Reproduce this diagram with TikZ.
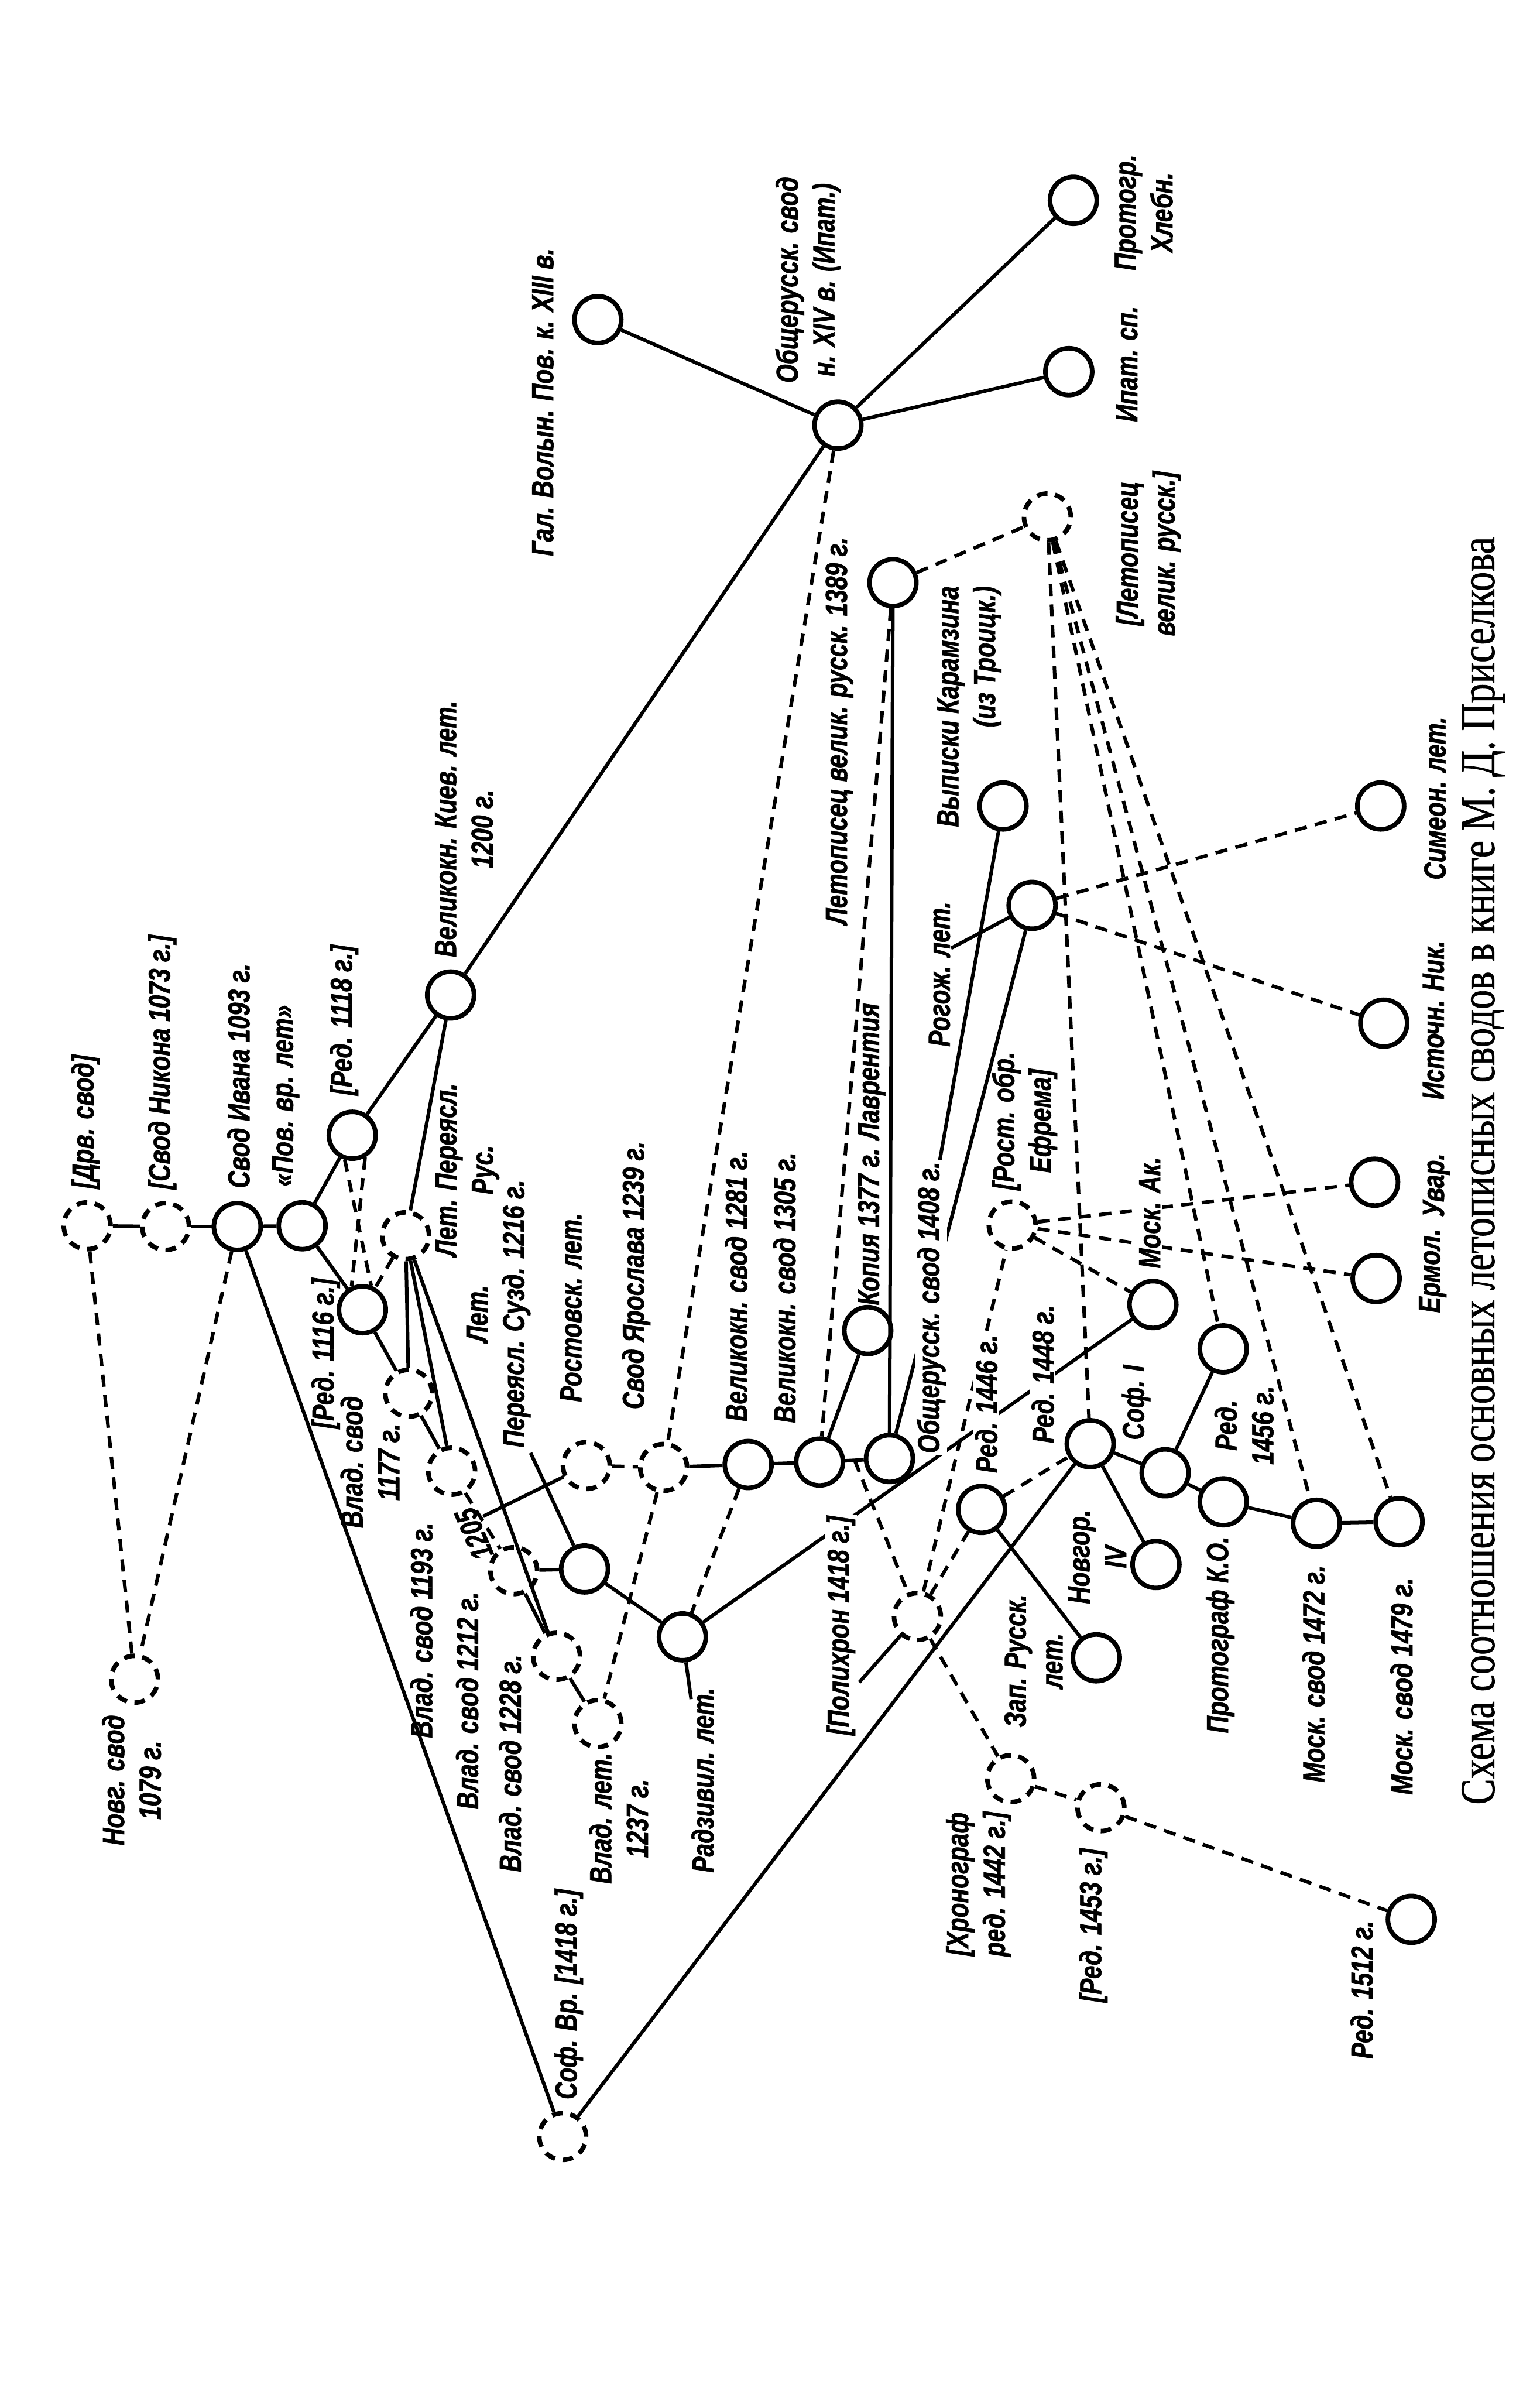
\documentclass[tikz,border=0pt]{standalone}
\usepackage{graphicx}
\usepackage{fontspec}
\newfontfamily\labfont{Liberation Sans}[FakeStretch=0.78,FakeBold=1.2]
\newfontfamily\capfont{Liberation Serif}[FakeBold=1]
\begin{document}
\begin{tikzpicture}[x=1pt,y=-1pt,
  sc/.style={circle,draw,line width=3pt,minimum size=30.6pt,inner sep=0pt},
  dc/.style={sc,dash pattern=on 7pt off 5pt},
  ln/.style={line width=2.3pt},
  dl/.style={line width=2.3pt,dash pattern=on 8pt off 5.5pt},
  lab/.style={rotate=90,font=\labfont\bfseries\itshape\fontsize{20pt}{24pt}\selectfont,align=center,inner sep=1pt},
  labw/.style={lab,fill=white},
]
\fill[white] (0,0) rectangle (1007,1568);
\useasboundingbox (0,0) rectangle (1007,1568);

% ---------- nodes ----------
\node[sc] (gal) at (391,209) {};
\node[sc] (obsh) at (548,278) {};
\node[sc] (ipat) at (699,243) {};
\node[sc] (protogr) at (702,131) {};
\node[dc] (letvel) at (685,338) {};
\node[sc] (l1389) at (584,381) {};
\node[sc] (karam) at (656,527) {};
\node[sc] (rogozh) at (675,592) {};
\node[sc] (simeon) at (903,527) {};
\node[sc] (istoch) at (905,669) {};
\node[sc] (uvar) at (899,773) {};
\node[sc] (ermol) at (900,836) {};
\node[dc] (rostobr) at (662,801) {};
\node[sc] (moskak) at (754,853) {};
\node[sc] (r1456) at (800,882) {};
\node[sc] (r1448) at (713,944) {};
\node[sc] (sof1) at (762,963) {};
\node[sc] (protko) at (800,982) {};
\node[sc] (m1472) at (861,996) {};
\node[sc] (m1479) at (915,995) {};
\node[sc] (novg4) at (756,1023) {};
\node[sc] (zapr) at (717,1084) {};
\node[sc] (r1446) at (642,987) {};
\node[dc] (polich) at (600,1057) {};
\node[dc] (hronogr) at (661,1163) {};
\node[dc] (r1453) at (720,1182) {};
\node[sc] (r1512) at (923,1255) {};
\node[dc] (sofvr) at (368,1397) {};
\node[dc] (novg1079) at (88,1098) {};
\node[dc] (drev) at (57,801.5) {};
\node[dc] (nikon) at (108.3,802) {};
\node[sc] (ivan) at (155.2,802) {};
\node[sc] (pov) at (197.6,801.5) {};
\node[sc] (r1116) at (237,856.4) {};
\node[sc] (r1118) at (230.4,742.3) {};
\node[sc] (kiev) at (294.7,650.6) {};
\node[dc] (lpr) at (265.3,808) {};
\node[dc] (v1177) at (267.3,911) {};
\node[dc] (v1193) at (295.4,962) {};
\node[dc] (v1212) at (336,1027) {};
\node[dc] (v1228) at (364,1083) {};
\node[dc] (vl1237) at (391,1127) {};
\node[dc] (rostov) at (383.5,958.3) {};
\node[dc] (yarosl) at (434,959.5) {};
\node[sc] (lps) at (382.3,1025.9) {};
\node[sc] (radz) at (446.3,1070.3) {};
\node[sc] (vk1281) at (489.3,957.6) {};
\node[sc] (vk1305) at (536,956) {};
\node[sc] (o1408) at (581.7,953.7) {};
\node[sc] (kopia) at (567.5,870) {};

\coordinate (j1205) at (316,991.5);
\coordinate (jpol) at (559,955);
\coordinate (karend) at (614.4,760);
\coordinate (rogl) at (622,620);
\coordinate (lpsl) at (347,950);
\coordinate (radzl) at (452,1111);
\coordinate (polil) at (562,1100);

% ---------- solid connectors ----------
\draw[ln] (gal) -- (obsh);
\draw[ln] (obsh) -- (ipat);
\draw[ln] (obsh) -- (protogr);
\draw[ln] (obsh) -- (kiev);
\draw[ln] (kiev) -- (r1118);
\draw[ln] (kiev) -- (lpr);
\draw[ln] (r1118) -- (pov);
\draw[ln] (pov) -- (ivan);
\draw[ln] (ivan) -- (nikon);
\draw[ln] (nikon) -- (drev);
\draw[ln] (pov) -- (r1116);
\draw[ln] (r1116) -- (v1177);
\draw[ln] (lpr) -- (v1177);
\draw[ln] (lpr) -- (v1193);
\draw[ln] (lpr) -- (v1228);
\draw[ln] (v1177) -- (v1193);
\draw[ln] (v1212) -- (v1228);
\draw[ln] (v1228) -- (vl1237);
\draw[ln] (v1212) -- (lps);
\draw[ln] (lps) -- (radz);
\draw[ln] (lpsl) -- (lps);
\draw[ln] (j1205) -- (rostov);
\draw[ln] (radz) -- (moskak);
\draw[ln] (radzl) -- (radz);
\draw[ln] (yarosl) -- (vk1281);
\draw[ln] (vk1281) -- (vk1305);
\draw[ln] (vk1305) -- (o1408);
\draw[ln] (vk1305) -- (kopia);
\draw[ln] (o1408) -- (l1389);
\draw[ln] (karam) -- (karend);
\draw[ln] (rogozh) -- (o1408);
\draw[ln] (rogl) -- (rogozh);
\draw[ln] (ivan) -- (sofvr);
\draw[ln] (r1448) -- (sofvr);
\draw[ln] (r1446) -- (zapr);
\draw[ln] (r1448) -- (sof1);
\draw[ln] (r1448) -- (novg4);
\draw[ln] (sof1) -- (r1456);
\draw[ln] (sof1) -- (protko);
\draw[ln] (protko) -- (m1472);
\draw[ln] (m1472) -- (m1479);
\draw[ln] (polil) -- (polich);

% ---------- dashed connectors ----------
\draw[dl] (drev) -- (novg1079);
\draw[dl] (ivan) -- (novg1079);
\draw[dl] (r1118.-107) -- (r1116.70);
\draw[dl] (r1118.-60) -- (r1116.115);
\draw[dl] (lpr) -- (r1116);
\draw[dl] (obsh) -- (yarosl);
\draw[dl] (l1389) -- (vk1305);
\draw[dl] (l1389) -- (letvel);
\draw[dl] (yarosl) -- (vl1237);
\draw[dl] (vk1281) -- (radz);
\draw[dl] (rostov) -- (yarosl);
\draw[dl] (v1193) -- (v1212);
\draw[dl] (jpol) -- (polich);
\draw[dl] (polich) -- (rostobr);
\draw[dl] (polich) -- (r1446);
\draw[dl] (polich) -- (hronogr);
\draw[dl] (r1446) -- (r1448);
\draw[dl] (hronogr) -- (r1453);
\draw[dl] (r1453) -- (r1512);
\draw[dl] (letvel) -- (r1448);
\draw[dl] (letvel) -- (r1456);
\draw[dl] (letvel) -- (m1472);
\draw[dl] (letvel) -- (m1479);
\draw[dl] (rostobr) -- (uvar);
\draw[dl] (rostobr) -- (ermol);
\draw[dl] (rostobr) -- (moskak);
\draw[dl] (rogozh) -- (simeon);
\draw[dl] (rogozh) -- (istoch);

% ---------- labels ----------
\node[lab] (t1) at (355,263) {Гал. Волын. Пов. к. XIII в.};
\node[lab] (t2) at (528.5,183) {Общерусск. свод\\н. XIV в. (Ипат.)};
\node[lab] (t3) at (748,139) {Протогр.\\Хлебн.};
\node[lab] (t4) at (737,238) {Ипат. сп.};
\node[lab] (t5) at (751,362) {[Летописец\\велик. русск.]};
\node[lab] (t6) at (549,478) {Летописец велик. русск. 1389 г.};
\node[lab,align=right] (t7) at (634,462) {Выписки Карамзина\\(из Троицк.)};
\node[lab] (t8) at (614.4,637) {Рогож. лет.};
\node[lab] (t9) at (938.5,522) {Симеон. лет.};
\node[lab] (t10) at (937.5,667) {Источн. Ник.};
\node[lab] (t11) at (939.5,775) {Увар.};
\node[lab] (t12) at (937,831) {Ермол.};
\node[lab] (t13) at (670,733) {[Рост. обр.\\Ефрема]};
\node[labw] (t14) at (752,793) {Моск. Ак.};
\node[labw] (t15) at (682,898.5) {Ред. 1448 г.};
\node[labw] (t16) at (645,918) {Ред. 1446 г.};
\node[lab] (t17) at (743,917) {Соф. I};
\node[lab] (t18) at (813.6,932) {Ред.\\1456 г.};
\node[lab] (t19) at (717.7,1018) {Новгор.\\IV};
\node[lab] (t20) at (798,1069) {Протограф К.О.};
\node[lab] (t21) at (859,1094.5) {Моск. свод 1472 г.};
\node[lab] (t22) at (916.6,1102.6) {Моск. свод 1479 г.};
\node[lab] (t23) at (676,1086) {Зап. Русск.\\лет.};
\node[lab] (t24) at (640,1232) {[Хронограф\\ред. 1442 г.]};
\node[lab] (t25) at (715,1259) {[Ред. 1453 г.]};
\node[lab] (t26) at (890.5,1301) {Ред. 1512 г.};
\node[labw] (t27) at (550,1063) {[Полихрон 1418 г.]};
\node[lab] (t28) at (372,1304) {Соф. Вр. [1418 г.]};
\node[lab] (t29) at (404.6,1189) {Влад. лет.\\1237 г.};
\node[lab] (t30) at (459.5,1164) {Радзивил. лет.};
\node[lab] (t31) at (333.5,1153) {Влад. свод 1228 г.};
\node[lab] (t32) at (305.5,1112) {Влад. свод 1212 г.};
\node[lab] (t33) at (275.5,1066) {Влад. свод 1193 г.};
\node[lab,rotate=23,inner sep=0pt] (t34) at (310,1003) {1205};
\node[lab] (t35) at (242,956) {Влад. свод\\1177 г.};
\node[lab] (t36) at (213,885) {[Ред. 1116 г.]};
\node[lab] (t37) at (326,859) {Лет.\\Переясл. Сузд. 1216 г.};
\node[lab] (t38) at (305.6,765) {Лет. Переясл.\\Рус.};
\node[lab] (t39) at (303.5,542) {Великокн. Киев. лет.\\1200 г.};
\node[lab] (t40) at (225,667) {[Ред. 1118 г.]};
\node[lab] (t41) at (186.8,716.5) {«Пов. вр. лет»};
\node[lab] (t42) at (156,703.5) {Свод Ивана 1093 г.};
\node[lab] (t43) at (106,694.5) {[Свод Никона 1073 г.]};
\node[lab] (t44) at (56,733.5) {[Дрв. свод]};
\node[lab] (t45) at (86,1164) {Новг. свод\\1079 г.};
\node[lab] (t46) at (373.5,855) {Ростовск. лет.};
\node[lab] (t47) at (416,834) {Свод Ярослава 1239 г.};
\node[lab] (t48) at (481.4,841) {Великокн. свод 1281 г.};
\node[lab] (t49) at (513,842) {Великокн. свод 1305 г.};
\node[lab] (t50) at (570,754.7) {Копия 1377 г. Лаврентия};
\node[labw] (t51) at (609,855) {Общерусск. свод 1408 г.};

% ---------- caption ----------
\node[rotate=90,inner sep=0pt] (cap) at (970,765.5) {\resizebox{829pt}{\height}{\capfont\fontsize{32pt}{34pt}\selectfont Схема соотношения основных летописных сводов в книге М.~Д.~Приселкова}};
\end{tikzpicture}
\end{document}
